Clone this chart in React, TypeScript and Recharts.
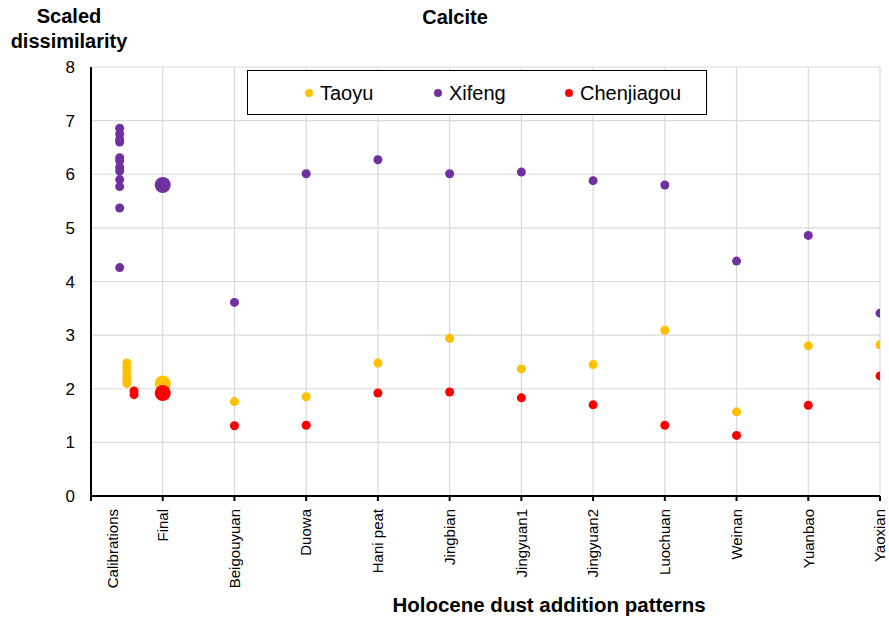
import { ScatterChart, Scatter, XAxis, YAxis, CartesianGrid } from 'recharts';

const FONT = '"Liberation Sans", Arial, sans-serif';

const sites = ['Beigouyuan', 'Duowa', 'Hani peat', 'Jingbian', 'Jingyuan1', 'Jingyuan2', 'Luochuan', 'Weinan', 'Yuanbao', 'Yaoxian'];
const taoyu = [1.76, 1.85, 2.48, 2.94, 2.37, 2.45, 3.09, 1.57, 2.8, 2.82];
const xifeng = [3.61, 6.01, 6.27, 6.01, 6.04, 5.88, 5.8, 4.38, 4.86, 3.41];
const chenjiagou = [1.31, 1.32, 1.92, 1.94, 1.83, 1.7, 1.32, 1.13, 1.69, 2.24];

// calibration runs, plotted slightly offset left of "Final"
const calTaoyu = [2.48, 2.4, 2.32, 2.24, 2.16, 2.1];
const calXifeng = [6.86, 6.75, 6.65, 6.6, 6.31, 6.25, 6.13, 6.06, 5.9, 5.77, 5.37, 4.26];
const calChenjiagou = [1.96, 1.89];

const finalTaoyu = 2.1;
const finalXifeng = 5.8;
const finalChenjiagou = 1.92;

const xLabels = ['Calibrations', 'Final', ...sites];
const yTicks = [0, 1, 2, 3, 4, 5, 6, 7, 8];

const COLORS = { taoyu: '#FFC000', xifeng: '#7030A0', chenjiagou: '#FF0000' };

const build = (cal: number[], calX: number, vals: number[]) => [
  ...cal.map((y) => ({ x: calX, y })),
  ...vals.map((y, i) => ({ x: i + 2, y })),
];

const dot = (r: number, fill: string) => (props: any) => (
  <circle cx={props.cx} cy={props.cy} r={r} fill={fill} />
);

const XTick = (props: any) => {
  const { x, y, payload } = props;
  const shift = payload.value === 0 ? 22 : 0;
  return (
    <text
      transform={`rotate(-90, ${x + shift}, ${y + 6})`}
      x={x + shift}
      y={y + 6}
      dy="0.35em"
      textAnchor="end"
      fontSize={15}
      fontFamily={FONT}
      fill="#000"
    >
      {xLabels[payload.value]}
    </text>
  );
};

const legendItems: [string, string, number][] = [
  ['Taoyu', COLORS.taoyu, 57],
  ['Xifeng', COLORS.xifeng, 186],
  ['Chenjiagou', COLORS.chenjiagou, 317],
];

const title = { position: 'absolute' as const, fontFamily: FONT, fontWeight: 'bold' as const, fontSize: 20, textAlign: 'center' as const, color: '#000' };

export default function App() {
  return (
    <div style={{ position: 'absolute', left: 0, top: 0, width: 889, height: 619, background: '#fff' }}>
      <div style={{ ...title, left: 355, width: 200, top: 6 }}>Calcite</div>
      <div style={{ ...title, left: 0, width: 138, top: 4, lineHeight: '25px' }}>
        Scaled
        <br />
        dissimilarity
      </div>
      <div style={{ ...title, left: 299, width: 500, top: 593, fontSize: 20.5 }}>Holocene dust addition patterns</div>
      <ScatterChart width={889} height={619} margin={{ top: 67, right: 9, bottom: 0, left: 0 }}>
        <CartesianGrid stroke="#d9d9d9" strokeWidth={1.2} />
        <XAxis
          type="number"
          dataKey="x"
          domain={[0, 11]}
          ticks={[0, 1, 2, 3, 4, 5, 6, 7, 8, 9, 10, 11]}
          interval={0}
          height={123}
          axisLine={{ stroke: '#000', strokeWidth: 2 }}
          tickLine={{ stroke: '#000', strokeWidth: 2 }}
          tickSize={5}
          tick={<XTick />}
          allowDataOverflow
        />
        <YAxis
          type="number"
          dataKey="y"
          domain={[0, 8]}
          ticks={yTicks}
          width={91}
          axisLine={{ stroke: '#000', strokeWidth: 2 }}
          tickLine={false}
          tickSize={6}
          tickMargin={10}
          tick={{ fontSize: 17, fontFamily: FONT, fill: '#000' }}
        />
        <Scatter data={build(calXifeng, 0.4, xifeng)} shape={dot(4.5, COLORS.xifeng)} isAnimationActive={false} />
        <Scatter data={build(calTaoyu, 0.5, taoyu)} shape={dot(4.5, COLORS.taoyu)} isAnimationActive={false} />
        <Scatter data={build(calChenjiagou, 0.6, chenjiagou)} shape={dot(4.5, COLORS.chenjiagou)} isAnimationActive={false} />
        <Scatter data={[{ x: 1, y: finalXifeng }]} shape={dot(8, COLORS.xifeng)} isAnimationActive={false} />
        <Scatter data={[{ x: 1, y: finalTaoyu }]} shape={dot(8, COLORS.taoyu)} isAnimationActive={false} />
        <Scatter data={[{ x: 1, y: finalChenjiagou }]} shape={dot(8, COLORS.chenjiagou)} isAnimationActive={false} />
      </ScatterChart>
      <div
        style={{
          position: 'absolute',
          left: 247,
          top: 70,
          width: 460,
          height: 45,
          border: '1.5px solid #000',
          boxSizing: 'border-box',
          background: '#fff',
          fontFamily: FONT,
          fontSize: 20,
          color: '#000',
        }}
      >
        {legendItems.map(([name, color, left]) => (
          <div key={name} style={{ position: 'absolute', left, top: 10, display: 'flex', alignItems: 'center', lineHeight: '24px' }}>
            <span style={{ width: 8, height: 8, borderRadius: 4, background: color, marginRight: 7 }} />
            {name}
          </div>
        ))}
      </div>
    </div>
  );
}
